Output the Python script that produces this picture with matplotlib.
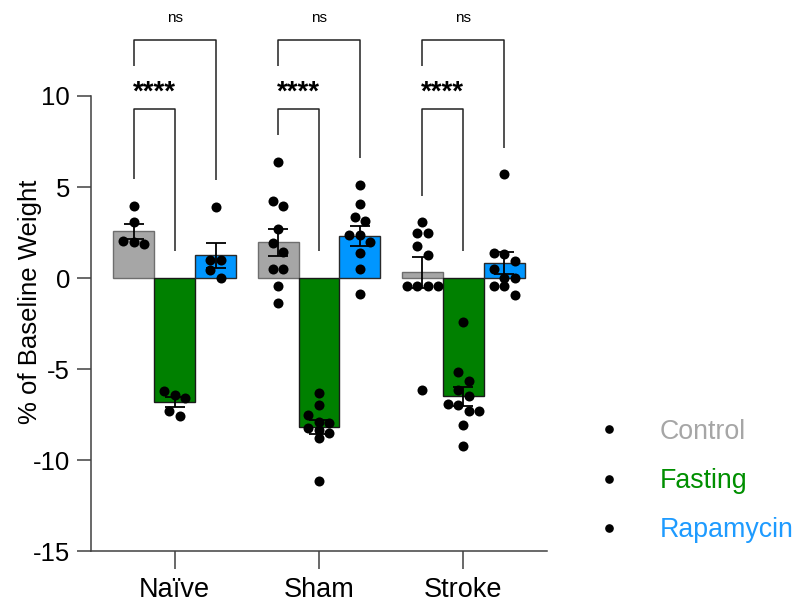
import numpy as np
import matplotlib
matplotlib.use('Agg')
import matplotlib.pyplot as plt
from matplotlib.lines import Line2D

plt.rcParams['font.family'] = ['Liberation Sans', 'DejaVu Sans']

groups = ['Naïve', 'Sham', 'Stroke']
treatments = ['Control', 'Fasting', 'Rapamycin']
bar_colors = ['#A6A6A6', '#008000', '#0096FF']
edge_colors = ['#6E6E6E', '#1A1A1A', '#2A2A2A']
label_colors = ['#A6A6A6', '#008F00', '#1E9BFF']

# % change of body weight per animal
naive_control = [3.96, 3.07, 1.85, 2.01, 1.97]
naive_fasting = [-6.45, -6.20, -6.58, -7.28, -7.60]
naive_rapamycin = [3.91, 0.97, 0.97, 0.44, 0.02]

sham_control = [6.36, 4.22, 3.93, 2.69, 1.90, 1.41, 0.49, 0.49, -0.44, -1.37]
sham_fasting = [-6.32, -7.00, -7.53, -7.91, -7.97, -8.24, -8.37, -8.54, -8.81, -11.13]
sham_rapamycin = [5.10, 4.04, 3.33, 3.14, 2.36, 2.36, 1.96, 1.35, 0.49, -0.88]

stroke_control = [3.05, 2.45, 2.45, 1.77, 1.26, -0.44, -0.44, -0.44, -0.44, -6.14]
stroke_fasting = [-2.40, -5.15, -5.65, -6.14, -6.47, -7.00, -6.91, -7.33, -7.28, -8.06, -9.21]
stroke_rapamycin = [5.70, 1.30, 1.39, 0.95, 0.48, 0.02, 0.02, -0.44, -0.44, -0.93]

data = [
    [naive_control, naive_fasting, naive_rapamycin],
    [sham_control, sham_fasting, sham_rapamycin],
    [stroke_control, stroke_fasting, stroke_rapamycin],
]
stars = ['****', '****', '****']
outer_labels = ['ns', 'ns', 'ns']

bar_w = 0.284
offsets = [-bar_w, 0.0, bar_w]

fig = plt.figure(figsize=(7.96, 6.03), dpi=100)
ax = fig.add_axes([0.1143, 0.0862, 0.5729, 0.7546])
ax.set_xlim(-0.58, 2.58)
ax.set_ylim(-15, 10)


def swarm(values, px_per_x, px_per_y, dot_px=9.5, step_px=10.5):
    # group points of similar height into rows and spread each row sideways
    vals = np.asarray(values, dtype=float)
    order = np.argsort(-vals, kind='stable')
    rows = []
    for i in order:
        ypx = vals[i] * px_per_y
        if rows and rows[-1][0] - ypx < dot_px:
            rows[-1][1].append(i)
        else:
            rows.append([ypx, [i]])
    dx = np.zeros(len(vals))
    for _, idx in rows:
        k = len(idx)
        for j, i in enumerate(idx):
            dx[i] = (j - (k - 1) / 2) * step_px / px_per_x
    return dx


p0 = ax.transData.transform((0, 0))
p1 = ax.transData.transform((1, 1))
px_x = p1[0] - p0[0]
px_y = p1[1] - p0[1]

for g, group in enumerate(data):
    for t, vals in enumerate(group):
        x = g + offsets[t]
        vals = np.asarray(vals)
        mean = vals.mean()
        sem = vals.std(ddof=1) / np.sqrt(len(vals))
        ax.bar(x, mean, width=bar_w, color=bar_colors[t], edgecolor=edge_colors[t],
               linewidth=1.0, zorder=1)
        ax.errorbar(x, mean, yerr=sem, fmt='none', ecolor='black', elinewidth=1.3,
                    capsize=7.5, capthick=1.3, zorder=2)
        ax.scatter(x + swarm(vals, px_x, px_y), vals, s=52, color='black',
                   linewidths=0, zorder=3)

# significance brackets
gap = 1.47
line_kw = dict(color='#222222', lw=1.1, clip_on=False, solid_capstyle='butt')
for g, group in enumerate(data):
    xc, xf, xr = g + offsets[0], g + offsets[1], g + offsets[2]
    ctrl_top = max(0, max(group[0])) + gap
    fast_top = max(0, max(group[1])) + gap
    rapa_top = max(0, max(group[2])) + gap
    ax.plot([xc, xc, xf, xf], [ctrl_top, 9.30, 9.30, fast_top], **line_kw)
    ax.plot([xc, xc, xr, xr], [11.64, 13.10, 13.10, rapa_top], **line_kw)
    ax.text((xc + xf) / 2, 10.2, stars[g], ha='center', va='center',
            fontsize=20, fontweight='bold', clip_on=False)
    ax.text(g, 14.31, outer_labels[g], ha='center', va='center', fontsize=11,
            clip_on=False)

ax.spines['top'].set_visible(False)
ax.spines['right'].set_visible(False)
for side in ['left', 'bottom']:
    ax.spines[side].set_color('#404040')
    ax.spines[side].set_linewidth(1.1)

ax.set_yticks([10, 5, 0, -5, -10, -15])
ax.set_yticklabels(['10', '5', '0', '-5', '-10', '-15'])
ax.set_xticks(range(len(groups)))
ax.set_xticklabels(groups)
ax.tick_params(axis='y', direction='out', length=10, width=1.1, color='#404040',
               labelsize=18.5, pad=5)
ax.tick_params(axis='x', direction='out', length=13, width=1.1, color='#404040',
               labelsize=19.5, pad=6)
ax.set_ylabel('% of Baseline Weight', fontsize=18.5, va='center')
ax.yaxis.set_label_coords(-0.134, 0.547)

handles = [Line2D([], [], marker='o', color='black', linestyle='none', markersize=5.2)
           for _ in treatments]
fig.legend(handles, treatments, loc='center left', bbox_to_anchor=(0.748, 0.2023),
           frameon=False, fontsize=19.3, labelcolor=label_colors, handlelength=1.0,
           handletextpad=1.4, labelspacing=0.865, borderpad=0, borderaxespad=0)

fig.savefig('out.png', dpi=100)
